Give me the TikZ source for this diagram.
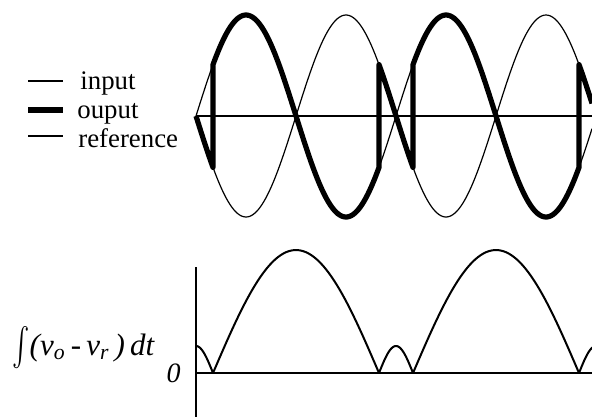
\documentclass[tikz,border=0pt]{standalone}
\usepackage{fontspec}
\setmainfont{Liberation Serif}
\usetikzlibrary{positioning}
\tikzset{
  inputwave/.style={line width=0.6pt,draw=black},
  outputwave/.style={line width=2.6pt,draw=black,line join=round},
  refline/.style={line width=1.1pt,draw=black},
  axisline/.style={line width=0.7pt,draw=black},
  integralcurve/.style={line width=1pt,draw=black},
  legendlabel/.style={font=\fontsize{13.4}{16}\selectfont,inner sep=0pt,
    anchor=base west}
}

\begin{document}
\begin{tikzpicture}[x=0.5pt,y=-0.5pt]
  \useasboundingbox (0,0) rectangle (592,419);
  % legend
  \draw[inputwave] (28,81) -- (63,81);
  \draw[outputwave] (28,110) -- (63,110);
  \draw[refline] (28,136) -- (63,136);
  \node[legendlabel] (inputtext) at (80,89) {input};
  \node[legendlabel] (outputtext) at (77,118) {ouput};
  \node[legendlabel] (reftext) at (78,147) {reference};
  % upper plot
  \draw[inputwave] plot[domain=196:592,samples=200]
    (\x,{116+101*sin(1.8*(\x-196))});
  \draw[inputwave] plot[domain=196:592,samples=200]
    (\x,{116-101*sin(1.8*(\x-196))});
  \draw[refline] (196,116) -- (592,116);
  \draw[outputwave] plot[domain=196:213,samples=12]
      (\x,{116+101*sin(1.8*(\x-196))})
    --plot[domain=213:379,samples=90] (\x,{116-101*sin(1.8*(\x-196))})
    --plot[domain=379:413,samples=20] (\x,{116+101*sin(1.8*(\x-196))})
    --plot[domain=413:579,samples=90] (\x,{116-101*sin(1.8*(\x-196))})
    --plot[domain=579:592,samples=10] (\x,{116+101*sin(1.8*(\x-196))});
  % lower plot
  \draw[axisline] (196,267) -- (196,417);
  \draw[axisline] (196,373) -- (592,373);
  \begin{scope}
    \clip (196,230) rectangle (592,419);
    \foreach \a/\b/\h in {179/213/27, 213/379/123, 379/413/27,
                          413/579/123, 579/613/27}
      \draw[integralcurve] plot[domain=\a:\b,samples=60]
        (\x,{373-\h*sin((\x-\a)/(\b-\a)*180)});
  \end{scope}
  \node[legendlabel,anchor=base east,font=\fontsize{14}{16}\selectfont]
    (zerolabel) at (181,382) {\textit{0}};
  \node[legendlabel,font=\fontsize{15.5}{18}\selectfont] (intlabel) at (12,355)
    {\raisebox{-3pt}{\scalebox{1.3}[1.9]{$\int$}}%
     \textit{(v\textsubscript{o}\,-\,v\textsubscript{r}\,)\,dt}};
\end{tikzpicture}
\end{document}
